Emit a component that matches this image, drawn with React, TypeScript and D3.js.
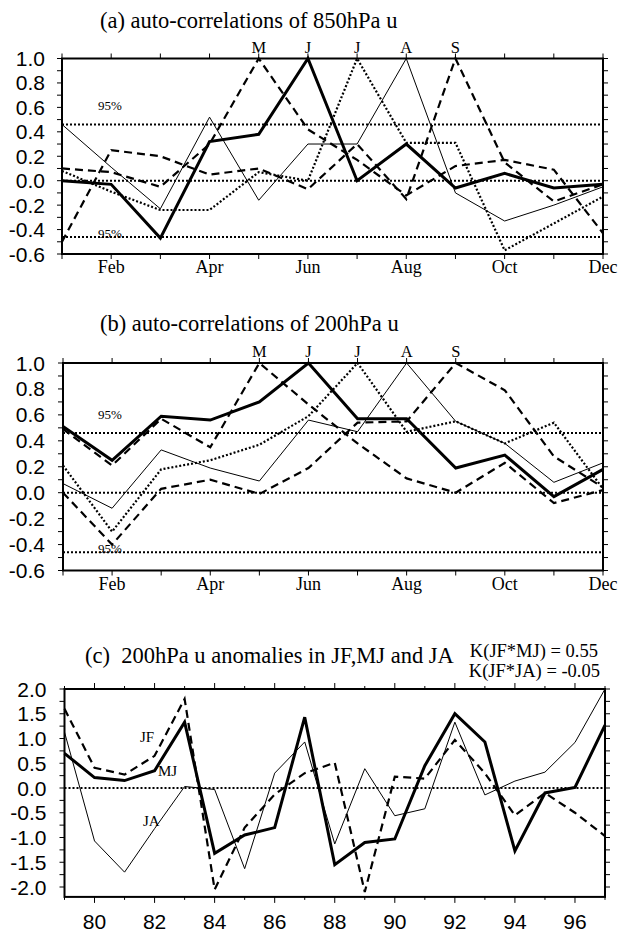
import React from "react";
import * as d3 from "d3";

// ---------- DATA ----------
const months = [1, 2, 3, 4, 5, 6, 7, 8, 9, 10, 11, 12];
const monthTickLabels = ["Feb", "Apr", "Jun", "Aug", "Oct", "Dec"];
const monthTickValues = [2, 4, 6, 8, 10, 12];
const peakLabels = ["M", "J", "J", "A", "S"];
const peakMonths = [5, 6, 7, 8, 9];
const corrTickValues = [1.0, 0.8, 0.6, 0.4, 0.2, 0.0, -0.2, -0.4, -0.6];
const corrTickLabels = ["1.0", "0.8", "0.6", "0.4", "0.2", "0.0", "-0.2", "-0.4", "-0.6"];
const signif95 = [0.46, -0.46];

// (a) 850hPa u
const a_May = [0.1, 0.07, -0.05, 0.3, 1.0, 0.42, 0.17, -0.12, 0.12, 0.17, 0.09, -0.43];
const a_Jun = [0.0, -0.03, -0.47, 0.32, 0.38, 1.0, 0.0, 0.3, -0.06, 0.06, -0.06, -0.03];
const a_Jul = [0.08, -0.09, -0.24, -0.24, 0.07, 0.0, 1.0, 0.31, 0.31, -0.57, -0.35, -0.13];
const a_Aug = [0.46, 0.11, -0.23, 0.52, -0.16, 0.3, 0.3, 1.0, -0.1, -0.33, -0.2, -0.05];
const a_Sep = [-0.5, 0.25, 0.2, 0.05, 0.1, -0.07, 0.3, -0.15, 1.0, 0.15, -0.17, -0.03];

// (b) 200hPa u
const b_May = [0.49, 0.21, 0.57, 0.35, 1.0, 0.68, 0.38, 0.11, 0.0, 0.23, -0.08, 0.02];
const b_Jun = [0.51, 0.25, 0.59, 0.56, 0.7, 1.0, 0.57, 0.57, 0.19, 0.29, -0.03, 0.18];
const b_Jul = [0.21, -0.3, 0.18, 0.25, 0.37, 0.59, 1.0, 0.47, 0.55, 0.38, 0.54, 0.03];
const b_Aug = [0.07, -0.12, 0.33, 0.19, 0.09, 0.56, 0.47, 1.0, 0.55, 0.38, 0.08, 0.23];
const b_Sep = [0.0, -0.4, 0.03, 0.1, -0.01, 0.19, 0.54, 0.55, 1.0, 0.79, 0.28, 0.04];

// (c) 200hPa u anomalies
const years = [79, 80, 81, 82, 83, 84, 85, 86, 87, 88, 89, 90, 91, 92, 93, 94, 95, 96, 97];
const yearTickValues = [80, 82, 84, 86, 88, 90, 92, 94, 96];
const yearTickLabels = ["80", "82", "84", "86", "88", "90", "92", "94", "96"];
const anomTickValues = [2.0, 1.5, 1.0, 0.5, 0.0, -0.5, -1.0, -1.5, -2.0];
const anomTickLabels = ["2.0", "1.5", "1.0", "0.5", "0.0", "-0.5", "-1.0", "-1.5", "-2.0"];
const JF = [1.6, 0.41, 0.27, 0.65, 1.8, -2.05, -0.8, -0.13, 0.3, 0.51, -2.1, 0.23, 0.19, 0.97, 0.3, -0.55, -0.1, -0.5, -0.97];
const MJ = [0.7, 0.21, 0.15, 0.35, 1.33, -1.32, -0.95, -0.8, 1.43, -1.55, -1.1, -1.03, 0.45, 1.5, 0.93, -1.27, -0.1, 0.01, 1.27];
const JA = [1.13, -1.07, -1.7, -0.82, 0.03, -0.03, -1.63, 0.3, 0.93, -1.13, 0.39, -0.56, -0.42, 1.33, -0.14, 0.14, 0.32, 0.92, 2.0];

// ---------- STYLES ----------
const STY: Record<string, { w: number; dash?: string }> = {
  thick: { w: 3 },
  thin: { w: 1 },
  dashed: { w: 2.2, dash: "8,5" },
  dotted: { w: 2.2, dash: "2,2" },
};
const SERIF = "'Liberation Serif', 'Times New Roman', serif";
const SANS = "'Liberation Sans', Arial, sans-serif";

function Series({ xs, ys, x, y, style }: any) {
  const line = d3
    .line<number>()
    .x((_, i) => x(xs[i]))
    .y((d) => y(d));
  const s = STY[style];
  return (
    <path
      d={line(ys) || ""}
      fill="none"
      stroke="#000"
      strokeWidth={s.w}
      strokeDasharray={s.dash}
      strokeLinejoin="miter"
    />
  );
}

function MonthPanel({ geo, title, titleY, series }: any) {
  const x = d3.scaleLinear().domain([1, 12]).range([geo.x0, geo.x1]);
  const y = d3.scaleLinear().domain([-0.6, 1.0]).range([geo.yBot, geo.yTop]);
  const minor = d3.range(-6, 11).map((v) => v / 10);
  return (
    <g>
      <text x={100} y={titleY} fontFamily={SERIF} fontSize={22.5}>
        {title}
      </text>
      {peakMonths.map((m, i) => (
        <text key={i} x={x(m)} y={geo.yTop - 6} textAnchor="middle" fontFamily={SERIF} fontSize={16.5}>
          {peakLabels[i]}
        </text>
      ))}
      {/* reference lines */}
      {[0, ...signif95].map((v, i) => (
        <line key={i} x1={geo.x0} x2={geo.x1} y1={y(v)} y2={y(v)} stroke="#000" strokeWidth={2} strokeDasharray="2,2" />
      ))}
      <text x={98} y={y(signif95[0]) - 14} fontFamily={SERIF} fontSize={13}>95%</text>
      <text x={98} y={y(signif95[1]) + 1} fontFamily={SERIF} fontSize={13}>95%</text>
      {series.map((s: any, i: number) => (
        <Series key={i} xs={months} ys={s.values} x={x} y={y} style={s.style} />
      ))}
      {/* frame */}
      <rect x={geo.x0} y={geo.yTop} width={geo.x1 - geo.x0} height={geo.yBot - geo.yTop} fill="none" stroke="#000" strokeWidth={2} />
      {months.map((m) => (
        <g key={m}>
          <line x1={x(m)} x2={x(m)} y1={geo.yTop} y2={geo.yTop - 5} stroke="#000" strokeWidth={1} />
          <line x1={x(m)} x2={x(m)} y1={geo.yBot} y2={geo.yBot + 5} stroke="#000" strokeWidth={1} />
        </g>
      ))}
      {minor.map((v, i) => (
        <g key={i}>
          <line x1={geo.x0} x2={geo.x0 - 5} y1={y(v)} y2={y(v)} stroke="#000" strokeWidth={1} />
          <line x1={geo.x1} x2={geo.x1 + 5} y1={y(v)} y2={y(v)} stroke="#000" strokeWidth={1} />
        </g>
      ))}
      {corrTickValues.map((v, i) => (
        <text key={i} x={45} y={y(v) + 7.5} textAnchor="end" fontFamily={SANS} fontSize={21}>
          {corrTickLabels[i]}
        </text>
      ))}
      {monthTickValues.map((m, i) => (
        <text key={i} x={x(m)} y={geo.yBot + 19} textAnchor="middle" fontFamily={SERIF} fontSize={18}>
          {monthTickLabels[i]}
        </text>
      ))}
    </g>
  );
}

function AnomPanel() {
  const geo = { x0: 64.5, x1: 605, yTop: 689, yBot: 896.9 };
  const x = d3.scaleLinear().domain([79, 97]).range([geo.x0, geo.x1]);
  const y = d3.scaleLinear().domain([-2.2, 2.0]).range([geo.yBot, geo.yTop]);
  const minor = d3.range(-8, 9).map((v) => v / 4);
  return (
    <g>
      <text x={85} y={663} fontFamily={SERIF} fontSize={22.5} style={{ whiteSpace: "pre" }}>
        {"(c)  200hPa u anomalies in JF,MJ and JA"}
      </text>
      <text x={598} y={657} textAnchor="end" fontFamily={SERIF} fontSize={18.5}>K(JF*MJ) = 0.55</text>
      <text x={600} y={677} textAnchor="end" fontFamily={SERIF} fontSize={18.5}>K(JF*JA) = -0.05</text>
      <line x1={geo.x0} x2={geo.x1} y1={y(0)} y2={y(0)} stroke="#000" strokeWidth={2} strokeDasharray="2,2" />
      <Series xs={years} ys={JA} x={x} y={y} style="thin" />
      <Series xs={years} ys={JF} x={x} y={y} style="dashed" />
      <Series xs={years} ys={MJ} x={x} y={y} style="thick" />
      <text x={140} y={742} fontFamily={SERIF} fontSize={15}>JF</text>
      <text x={158} y={776} fontFamily={SERIF} fontSize={15}>MJ</text>
      <text x={143} y={826} fontFamily={SERIF} fontSize={15}>JA</text>
      <rect x={geo.x0} y={geo.yTop} width={geo.x1 - geo.x0} height={geo.yBot - geo.yTop} fill="none" stroke="#000" strokeWidth={2} />
      {years.map((yr) => (
        <g key={yr}>
          <line x1={x(yr)} x2={x(yr)} y1={geo.yTop} y2={geo.yTop - (yr % 2 === 0 ? 6 : 3)} stroke="#000" strokeWidth={1} />
          <line x1={x(yr)} x2={x(yr)} y1={geo.yBot} y2={geo.yBot + (yr % 2 === 0 ? 6 : 3)} stroke="#000" strokeWidth={1} />
        </g>
      ))}
      {minor.map((v, i) => (
        <g key={i}>
          <line x1={geo.x0} x2={geo.x0 - 5} y1={y(v)} y2={y(v)} stroke="#000" strokeWidth={1} />
          <line x1={geo.x1} x2={geo.x1 + 5} y1={y(v)} y2={y(v)} stroke="#000" strokeWidth={1} />
        </g>
      ))}
      {anomTickValues.map((v, i) => (
        <text key={i} x={46.5} y={y(v) + 7.5} textAnchor="end" fontFamily={SANS} fontSize={21}>
          {anomTickLabels[i]}
        </text>
      ))}
      {yearTickValues.map((v, i) => (
        <text key={i} x={x(v)} y={929} textAnchor="middle" fontFamily={SANS} fontSize={21}>
          {yearTickLabels[i]}
        </text>
      ))}
    </g>
  );
}

export default function App() {
  const seriesA = [
    { values: a_Aug, style: "thin" },
    { values: a_Jul, style: "dotted" },
    { values: a_May, style: "dashed" },
    { values: a_Sep, style: "dashed" },
    { values: a_Jun, style: "thick" },
  ];
  const seriesB = [
    { values: b_Aug, style: "thin" },
    { values: b_Jul, style: "dotted" },
    { values: b_May, style: "dashed" },
    { values: b_Sep, style: "dashed" },
    { values: b_Jun, style: "thick" },
  ];
  return (
    <svg
      width={619}
      height={932}
      viewBox="0 0 619 932"
      style={{ position: "absolute", left: 0, top: 0, background: "#fff" }}
    >
      <rect width={619} height={932} fill="#fff" />
      <MonthPanel
        geo={{ x0: 62, x1: 603, yTop: 58.5, yBot: 254 }}
        title="(a) auto-correlations of 850hPa u"
        titleY={28}
        series={seriesA}
      />
      <MonthPanel
        geo={{ x0: 63, x1: 603, yTop: 363, yBot: 570.5 }}
        title="(b) auto-correlations of 200hPa u"
        titleY={331}
        series={seriesB}
      />
      <AnomPanel />
    </svg>
  );
}
